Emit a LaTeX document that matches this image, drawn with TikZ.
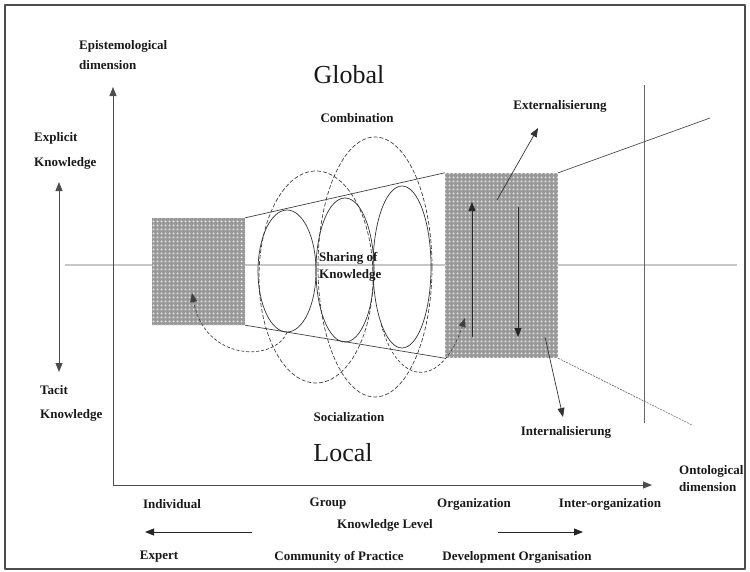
\documentclass[tikz,border=0pt]{standalone}
\usepackage{fontspec}
\setmainfont{Liberation Serif}
\usetikzlibrary{patterns,shapes.geometric,arrows.meta}
\pgfdeclarepatternformonly{holes}{\pgfpointorigin}{\pgfpoint{4pt}{4pt}}{\pgfpoint{4pt}{4pt}}{%
	\pgfpathcircle{\pgfpoint{2pt}{2pt}}{1.25pt}\pgfusepath{fill}}
\tikzset{
	lbl/.style={font=\fontsize{13}{15}\selectfont\bfseries, text=black!90, inner sep=1pt},
	big/.style={font=\fontsize{26}{30}\selectfont, text=black!90, inner sep=0pt},
	hatchbox/.style={preaction={fill=gray!80}, pattern=holes, pattern color=white!90!black, inner sep=0pt},
	ring/.style={ellipse, draw=black!80, line width=0.7pt, inner sep=0pt},
	dring/.style={ellipse, draw=black!75, line width=0.7pt, dash pattern=on 4pt off 2pt, inner sep=0pt},
	axis/.style={draw=black!70, line width=0.9pt},
}
\begin{document}
\begin{tikzpicture}[x=1pt,y=-1pt,line join=round,>={Triangle[length=9pt,width=7pt]}]
	\useasboundingbox (0,0) rectangle (750,571);
	\draw[line width=1.6pt, black!70] (5,5) rectangle (745,569);
	% reference lines
	\draw[line width=1.8pt, black!22] (65,265)--(737,265);
	\draw[line width=0.6pt, black!60] (644,85)--(644,423);
	% axes
	\coordinate (O) at (113,485);
	\coordinate (ytip) at (113,87);
	\coordinate (xtip) at (652,485);
	\draw[axis,->] (O)--(ytip);
	\draw[axis,->] (O)--(xtip);
	\coordinate (kup) at (59,182);
	\coordinate (kdown) at (59,372);
	\draw[axis,<->] (kup)--(kdown);
	% knowledge boxes
	\node[hatchbox, minimum width=93, minimum height=107] (indiv) at (198.5,271.5) {};
	\node[hatchbox, minimum width=113, minimum height=185] (orga) at (501.5,265.5) {};
	% funnel
	\coordinate (farup) at (710,118);
	\coordinate (fardown) at (692,425);
	\draw[black!75, line width=0.7pt] (indiv.north east)--(orga.north west);
	\draw[black!75, line width=0.7pt] (indiv.south east)--(orga.south west);
	\draw[black!70, line width=0.7pt] (orga.north east)--(farup);
	\draw[black!60, line width=0.6pt, dash pattern=on 2pt off 1pt] (orga.south east)--(fardown);
	% spirals
	\node[dring, minimum width=114, minimum height=212] (d1) at (316,277) {};
	\node[dring, minimum width=114, minimum height=260] (d2) at (375,267) {};
	\foreach \i/\x/\y/\h in {1/287/271/122, 2/345/270/144, 3/402/267/162}
	\node[ring, minimum width=58, minimum height=\h] (e\i) at (\x,\y) {};
	\coordinate (in1) at (192,293);
	\coordinate (in2) at (465,318);
	\draw[->, black!75, line width=0.7pt, dash pattern=on 3pt off 2pt] (e1.south) .. controls (275,362) and (205,362) .. (in1);
	\draw[->, black!75, line width=0.7pt, dash pattern=on 3pt off 2pt] (e3.250) .. controls (398,388) and (442,388) .. (in2);
	% arrows in the organisation box
	\coordinate (upfrom) at (472,337);
	\coordinate (upto) at (472,202);
	\coordinate (dnfrom) at (518,207);
	\coordinate (dnto) at (518,337);
	\coordinate (exfrom) at (497,200);
	\coordinate (exto) at (538,128);
	\coordinate (infrom) at (545,337);
	\coordinate (into) at (563,417);
	\draw[->, black!85, line width=0.8pt] (upfrom)--(upto);
	\draw[->, black!85, line width=0.8pt] (dnfrom)--(dnto);
	\draw[->, black!80, line width=0.7pt] (exfrom)--(exto);
	\draw[->, black!80, line width=0.7pt] (infrom)--(into);
	% labels
	\node[big] (global) at (349,75) {Global};
	\node[big] (local) at (343,453) {Local};
	\node[lbl] (comb) at (357,118) {Combination};
	\node[lbl] (soc) at (349,417) {Socialization};
	\node[lbl] (ext) at (560,106) {Externalisierung};
	\node[lbl] (int) at (566,432) {Internalisierung};
	\node[lbl, anchor=west, align=left] (share) at (318,266.5) {Sharing of\\[2pt]Knowledge};
	\node[lbl, anchor=west, align=left] (epi) at (78,55) {Epistemological\\[5pt]dimension};
	\node[lbl, anchor=west, align=left] (expl) at (33,150.5) {Explicit\\[10pt]Knowledge};
	\node[lbl, anchor=west, align=left] (tacit) at (39,403) {Tacit\\[9pt]Knowledge};
	\node[lbl, anchor=west, align=left] (onto) at (678,478.5) {Ontological\\[2pt]dimension};
	\foreach \x/\t [count=\i] in {172/Individual,328/Group,474/Organization,610/Inter-organization}
	\node[lbl] (lev\i) at (\x,504) {\t};
	\node[lbl] (klevel) at (385,525) {Knowledge Level};
	\foreach \x/\t [count=\i] in {159/Expert,339/Community of Practice,517/Development Organisation}
	\node[lbl] (role\i) at (\x,557) {\t};
	\coordinate (la) at (252,532);
	\coordinate (lb) at (145,532);
	\coordinate (ra) at (498,532);
	\coordinate (rb) at (583,532);
	\draw[->, black!85, line width=0.8pt] (la)--(lb);
	\draw[->, black!85, line width=0.8pt] (ra)--(rb);
\end{tikzpicture}
\end{document}
